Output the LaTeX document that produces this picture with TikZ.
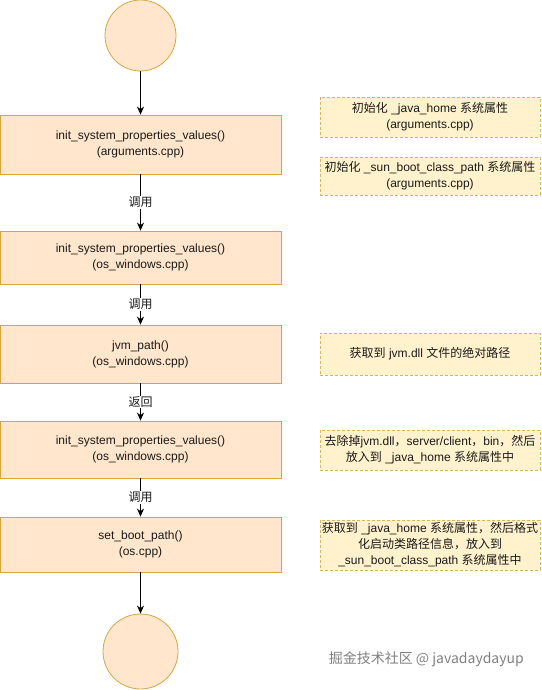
\documentclass[tikz,border=0pt]{standalone}
\usepackage{fontspec}
\setmainfont{Liberation Sans}
\newfontfamily\cjk{Noto Sans CJK SC}
\usetikzlibrary{arrows.meta}
\definecolor{boxfill}{HTML}{FFE6CC}
\definecolor{boxline}{HTML}{D8A442}
\definecolor{notefill}{HTML}{FFF2CC}
\definecolor{noteline}{HTML}{D6B656}
\definecolor{txt}{HTML}{1A1A1A}
\begin{document}
\begin{tikzpicture}[x=1pt,y=-1pt,
  fn/.style={draw=boxline,fill=boxfill,line width=0.8pt,minimum width=281pt,inner sep=0pt,align=center,text=txt,font=\fontsize{12}{16}\selectfont},
  endpt/.style={circle,draw=boxline,fill=boxfill,line width=0.8pt,inner sep=0pt},
  note/.style={draw=noteline,fill=notefill,line width=0.8pt,dash pattern=on 3pt off 2pt,minimum width=220pt,inner sep=0pt,align=center,text=txt,font=\fontsize{12}{16}\selectfont},
  arr/.style={-{Stealth[length=8pt,width=7pt,inset=2.5pt]},line width=1.1pt,black},
  lbl/.style={fill=white,inner sep=1pt,font=\cjk\fontsize{12}{14}\selectfont,text=txt}]
\useasboundingbox (0,0) rectangle (541,690);
\node[endpt,minimum size=71pt] (c1) at (140.5,35.5) {};
\node[fn,minimum height=59pt] (b1) at (140.5,144.5) {init\_system\_properties\_values()\\(arguments.cpp)};
\node[fn,minimum height=53pt] (b2) at (140.5,257.5) {init\_system\_properties\_values()\\(os\_windows.cpp)};
\node[fn,minimum height=58pt] (b3) at (140.5,354) {jvm\_path()\\(os\_windows.cpp)};
\node[fn,minimum height=57pt] (b4) at (140.5,449.5) {init\_system\_properties\_values()\\(os\_windows.cpp)};
\node[fn,minimum height=55pt] (b5) at (140.5,544.5) {set\_boot\_path()\\(os.cpp)};
\node[endpt,minimum size=75pt] (c2) at (140.5,651.5) {};
\draw[arr] (c1) -- (b1);
\draw[arr] (b1) -- node[lbl] (l1) {调用} (b2);
\draw[arr] (b2) -- node[lbl] (l2) {调用} (b3);
\draw[arr] (b3) -- node[lbl] (l3) {返回} (b4);
\draw[arr] (b4) -- node[lbl] (l4) {调用} (b5);
\draw[arr] (b5) -- (c2);
\node[note,minimum height=40pt] (n1) at (430,117) {{\cjk 初始化} \_java\_home {\cjk 系统属性}\\(arguments.cpp)};
\node[note,minimum height=38pt] (n2) at (430,176) {{\cjk 初始化} \_sun\_boot\_class\_path {\cjk 系统属性}\\(arguments.cpp)};
\node[note,minimum height=42pt] (n3) at (430,354) {{\cjk 获取到} jvm.dll {\cjk 文件的绝对路径}};
\node[note,minimum height=40pt] (n4) at (430,450) {{\cjk 去除掉}jvm.dll{\cjk ，}server/client{\cjk ，}bin{\cjk ，然后}\\{\cjk 放入到} \_java\_home {\cjk 系统属性中}};
\node[note,minimum height=50pt] (n5) at (430,545) {{\cjk 获取到} \_java\_home {\cjk 系统属性，然后格式}\\{\cjk 化启动类路径信息，放入到}\\\_sun\_boot\_class\_path {\cjk 系统属性中}};
\node[anchor=east,inner sep=0pt,text=black!50,font=\cjk\fontsize{14}{16}\selectfont] (wm) at (524,659) {掘金技术社区 @ javadaydayup};
\end{tikzpicture}
\end{document}
